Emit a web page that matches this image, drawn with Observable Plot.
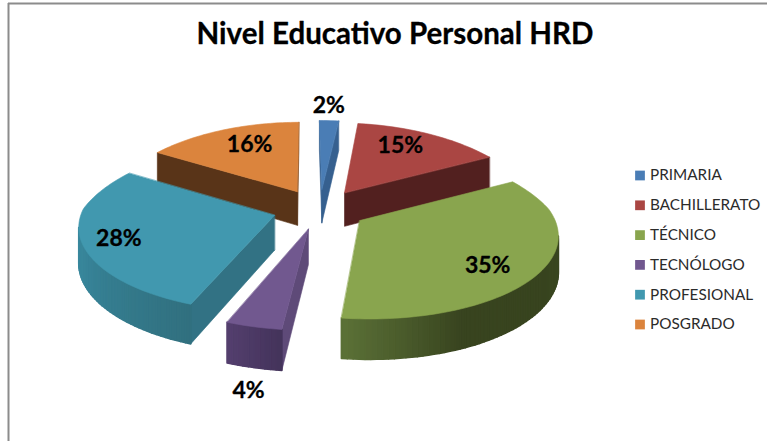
<!DOCTYPE html>
<html>
<head>
<meta charset="utf-8">
<script src="https://cdn.jsdelivr.net/npm/d3@7"></script>
<script src="https://cdn.jsdelivr.net/npm/@observablehq/plot@0.6"></script>
<style>
html,body{margin:0;padding:0;background:#fff;overflow:hidden}
svg{display:block}
</style>
</head>
<body>
<div id="chart"></div>
<script>
// Data
const categories = ["PRIMARIA","BACHILLERATO","TÉCNICO","TECNÓLOGO","PROFESIONAL","POSGRADO"];
const percents = [2,15,35,4,28,16];
const titleText = "Nivel Educativo Personal HRD";

// Styles
const topColors = ["#4a7db5","#aa4643","#89a54e","#71588f","#4198af","#db843d"];
const radialWall = ["#36608f","#52201f","#3c4a20","#5e4a78","#327284","#593418"];
const arcWall = [
  ["#36608f","#36608f"],
  ["#52201f","#52201f"],
  ["#3e4d21","#3a4720","#38441f","#38441f","#5b7137"],
  ["#43335a","#543f6e"],
  ["#31707f","#38869b","#3a8aa0"],
  ["#593418","#593418"]
];
// label anchors: polar position over the pie's floor (angle in degrees, radius)
const labelAngle = [3.2,30.5,128.3,190.4,251,334.5];
const labelRadius = [1.5,0.992,1.01,1.744,1.063,0.969];

// Layout of the tilted pie
const W = 767, H = 441;
const cx = 319, cy = 208.5, A = 192, B = 82.5, q = 0.1286, explode = 0.245, depth = 34.5;
function project(X, Y, down = 0) {
  const wy = 1 + q * Y;
  const wx = 1 + (Y > 0 ? 0.2 : 0.13) * Y;
  return [cx + A * X / wx - (Y < 0 ? 4 : 2) * Y, cy - B * Y / wy + down / wy];
}
const rad = d => d * Math.PI / 180;

const polys = [];
let pid = 0;
function addPoly(points, fill, kind) {
  pid++;
  for (const p of points) polys.push({id: pid, x: p[0], y: p[1], fill, kind});
}

// slices
const total = d3.sum(percents);
let acc = 0;
const slices = percents.map((v, i) => {
  const a0 = acc / total * 360; acc += v; const a1 = acc / total * 360;
  return {i, v, a0, a1, mid: (a0 + a1) / 2};
});

function sliceGeom(s) {
  const ox = explode * Math.sin(rad(s.mid)), oy = explode * Math.cos(rad(s.mid));
  const n = Math.max(2, Math.round((s.a1 - s.a0) / 1.5));
  const outline = [[ox, oy, s.a0]];
  for (let k = 0; k <= n; k++) {
    const a = s.a0 + (s.a1 - s.a0) * k / n;
    outline.push([ox + Math.sin(rad(a)), oy + Math.cos(rad(a)), a]);
  }
  return {outline, n};
}

// paint order: back slices first
const order = [0,1,5,4,2,3];
for (const idx of order) {
  const s = slices[idx];
  const {outline} = sliceGeom(s);
  const pts = outline.map(o => ({t: project(o[0], o[1]), b: project(o[0], o[1], depth), a: o[2]}));
  const m = pts.length;
  const stops = arcWall[idx];
  const ramp = d3.scaleLinear().domain(stops.map((_, k) => s.a0 + (s.a1 - s.a0) * k / (stops.length - 1))).range(stops);
  for (let k = 0; k < m; k++) {
    const P = pts[k], Q = pts[(k + 1) % m];
    if (Q.t[0] >= P.t[0]) continue; // faces away from the viewer
    const radial = k === 0 || k === m - 1;
    const col = radial ? radialWall[idx] : d3.color(ramp((P.a + Q.a) / 2)).formatHex();
    addPoly([P.t, Q.t, Q.b, P.b], col, radial ? "r" : "a");
  }
  addPoly(pts.map(p => p.t), topColors[idx], "t");
}

const labels = slices.map((s, i) => {
  const p = project(labelRadius[i] * Math.sin(rad(labelAngle[i])), labelRadius[i] * Math.cos(rad(labelAngle[i])));
  return {x: p[0], y: p[1], text: s.v + "%"};
});

const legendRows = categories.map((c, i) => ({name: c, color: topColors[i], row: i}));
const legendY = d3.scaleLinear().domain([0,5]).range([175,324]);

const chart = Plot.plot({
  width: W, height: H,
  margin: 0,
  style: {background: "#fff"},
  x: {axis: null, domain: [0, W], range: [0, W]},
  y: {axis: null, domain: [0, H], range: [0, H]},
  marks: [
    Plot.ruleX([8], {y1: 3, y2: H, stroke: "#8c8c8c", strokeWidth: 2}),
    Plot.ruleY([3], {x1: 8, x2: W, stroke: "#8c8c8c", strokeWidth: 2}),
    Plot.text([titleText], {x: 394.5, y: 34, text: d => d, fontFamily: "Lato", fontWeight: 700, fontSize: 29.5, fill: "#000", stroke: "#000", strokeWidth: 0.3}),
    Plot.line(polys, {x: "x", y: "y", z: "id", fill: "fill", stroke: "fill", strokeWidth: d => d.kind === "a" ? 1.6 : 0.6, curve: "linear-closed"}),
    Plot.text(labels, {x: "x", y: "y", text: "text", fontFamily: "Lato", fontWeight: 700, fontSize: 23, fill: "#000", stroke: "#000", strokeWidth: 0.3}),
    Plot.dot(legendRows, {x: 639.5, y: d => legendY(d.row), symbol: "square", r: 5.5, fill: "color", stroke: "none"}),
    Plot.text(legendRows, {x: 649.5, y: d => legendY(d.row), text: "name", textAnchor: "start", fontFamily: "Lato", fontSize: 15.3, fill: "#2b2b2b"})
  ]
});
document.getElementById("chart").appendChild(chart);
</script>
</body>
</html>
